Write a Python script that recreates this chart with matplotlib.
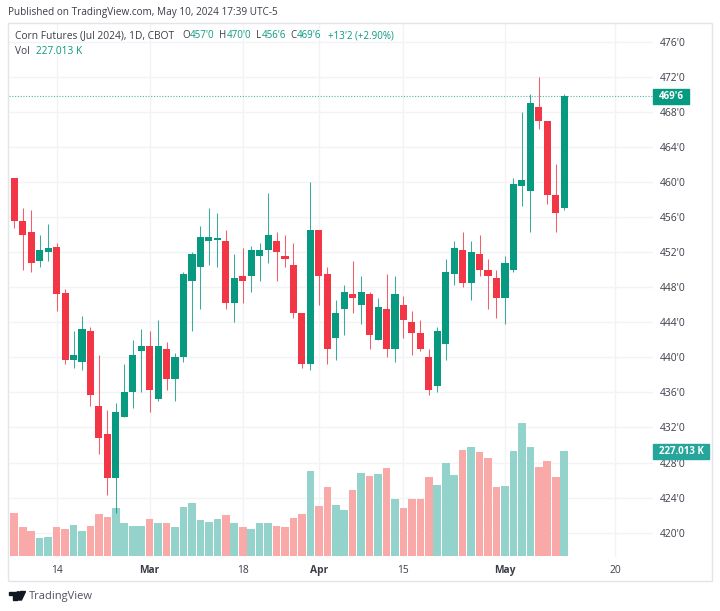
import matplotlib
matplotlib.use('Agg')
import matplotlib.pyplot as plt
from matplotlib.patches import Rectangle, Polygon, Circle

# daily candles
opens = [460.5, 455.55, 454.33, 451.0, 452.0, 452.55, 447.3, 439.75, 439.5, 443.0, 434.5, 431.25,
         426.25, 433.25, 436.0, 440.75, 441.25, 435.25, 441.0, 437.5, 440.0, 448.75, 450.25, 453.25,
         453.4, 453.25, 446.25, 449.25, 449.25, 451.5, 452.25, 453.25, 451.5, 450.5, 445.0, 439.25,
         454.5, 449.5, 442.25, 445.5, 447.25, 446.0, 447.25, 442.0, 445.5, 441.0, 446.0, 444.0,
         442.75, 440.0, 436.75, 441.5, 449.5, 452.25, 448.5, 451.75, 450.0, 449.0, 446.75, 450.0,
         459.5, 459.0, 468.5, 467.0, 458.5, 457.0]
highs = [460.5, 457.0, 456.75, 454.0, 455.25, 453.0, 447.75, 443.0, 444.75, 443.5, 440.25, 434.0,
         434.75, 439.25, 442.0, 443.25, 443.0, 444.25, 441.75, 440.5, 449.75, 452.0, 455.0, 457.0,
         456.5, 454.5, 451.75, 452.5, 452.75, 453.0, 458.75, 454.25, 454.0, 453.0, 445.0, 460.0,
         454.5, 450.25, 446.5, 448.25, 451.0, 449.25, 447.5, 446.75, 449.5, 449.25, 447.0, 445.25,
         444.25, 441.0, 443.5, 451.25, 453.25, 454.25, 453.25, 454.0, 451.25, 450.0, 451.5, 460.5,
         468.0, 470.0, 472.0, 467.0, 462.0, 470.0]
lows = [454.75, 450.0, 449.75, 450.25, 451.0, 445.25, 439.25, 438.75, 438.5, 434.5, 429.0, 424.25,
        422.25, 433.25, 434.25, 436.0, 433.75, 435.0, 436.25, 435.0, 439.5, 443.0, 445.5, 450.5,
        450.25, 445.5, 444.0, 446.25, 447.5, 448.75, 450.75, 448.75, 450.25, 444.5, 438.75, 438.5,
        446.0, 439.25, 439.75, 442.5, 445.0, 443.75, 441.0, 442.0, 440.0, 439.5, 442.25, 440.25,
        440.75, 435.75, 436.0, 439.75, 448.25, 448.0, 446.5, 449.25, 445.5, 444.5, 443.75, 449.75,
        457.25, 454.25, 466.0, 457.5, 454.25, 456.75]
closes = [455.5, 454.0, 450.75, 452.25, 452.5, 447.25, 439.75, 440.25, 443.25, 435.75, 430.75, 426.25,
          433.75, 436.0, 440.25, 441.25, 436.25, 441.25, 437.5, 440.0, 449.5, 451.75, 453.75, 453.75,
          453.6, 446.25, 449.0, 448.75, 452.25, 452.25, 454.0, 452.0, 451.25, 445.0, 439.25, 454.5,
          449.25, 441.0, 445.0, 447.5, 446.75, 447.5, 442.5, 445.75, 441.0, 447.25, 444.25, 442.75,
          441.0, 436.25, 443.0, 449.75, 452.5, 448.5, 452.0, 450.0, 449.25, 446.75, 450.75, 459.75,
          460.25, 469.0, 467.0, 458.5, 456.5, 469.75]
# volume in thousands
volumes = [94, 62, 53, 38, 40, 62, 58, 68, 53, 64, 91, 84, 104, 72, 65, 65, 79, 72, 71, 62,
           105, 114, 77, 73, 79, 89, 72, 62, 58, 71, 71, 64, 62, 82, 90, 184, 107, 149, 110, 99,
           142, 179, 174, 177, 190, 123, 104, 123, 123, 170, 153, 201, 175, 229, 235, 225, 212,
           150, 151, 227, 287, 235, 193, 205, 170, 227.013]

price_ticks = [420, 424, 428, 432, 436, 440, 444, 448, 452, 456, 460, 464, 468, 472, 476]
price_labels = ["420'0", "424'0", "428'0", "432'0", "436'0", "440'0", "444'0", "448'0",
                "452'0", "456'0", "460'0", "464'0", "468'0", "472'0", "476'0"]
date_ticks = [5, 16, 27, 36, 46, 58, 71]
date_labels = ['14', 'Mar', '18', 'Apr', '15', 'May', '20']
bold_labels = ['Mar', 'Apr', 'May']

RED = '#f23645'
GREEN = '#089981'
GRID = '#f2f3f7'
TEXT = '#3b3e48'
FONT = 'Open Sans'
W, H = 720, 611

plt.rcParams['font.family'] = FONT


def px(x, y):
    return x / W, 1 - y / H


def label(x, y, s, color=TEXT, size=7.3, **kw):
    fig.text(*px(x, y), s, color=color, fontsize=size, va='center', **kw)


fig = plt.figure(figsize=(W / 100, H / 100), dpi=100)

# plot area runs from 8.5 to 653 px across and 23.5 to 557 px down
left, right, top, bottom = 8.5, 653, 23.5, 557
rect = [left / W, 1 - bottom / H, (right - left) / W, (bottom - top) / H]

# three layers: grid and ticks, then volume, then candles
ax = fig.add_axes(rect, zorder=0)
vol_ax = fig.add_axes(rect, zorder=1)
candle_ax = fig.add_axes(rect, zorder=2)
vol_ax.axis('off')
candle_ax.axis('off')

for a in (ax, vol_ax, candle_ax):
    a.set_xlim(-0.686, 75.5)
for a in (ax, candle_ax):
    a.set_ylim(417.23, 478.07)
vol_ax.set_ylim(-2.16, 1151)

xs = range(len(opens))
up = [c >= o for o, c in zip(opens, closes)]
colors = [GREEN if u else RED for u in up]

vol_ax.bar(xs, volumes, width=0.9, color=['#93d3cc' if u else '#f8a9a8' for u in up])

candle_ax.vlines(xs, lows, highs, color=colors, linewidth=0.75, alpha=0.8, zorder=3)
candle_ax.bar(xs, [abs(c - o) for o, c in zip(opens, closes)], bottom=[min(o, c) for o, c in zip(opens, closes)],
              width=0.84, color=colors, zorder=4)

candle_ax.axhline(closes[-1], color=GREEN, linewidth=0.8, linestyle=(0, (1, 1.5)), alpha=0.7, zorder=2)

ax.set_yticks(price_ticks, price_labels)
ax.yaxis.tick_right()
ax.set_xticks(date_ticks, date_labels)
ax.tick_params(length=0, labelsize=7.4, labelcolor=TEXT)
ax.tick_params(axis='y', pad=5)
ax.tick_params(axis='x', pad=6)
for t in ax.get_xticklabels():
    if t.get_text() in bold_labels:
        t.set_fontweight('bold')
ax.grid(color=GRID, linewidth=1)
ax.set_axisbelow(True)
for s in ax.spines.values():
    s.set_visible(False)

# outer frame of the widget
fig.add_artist(Rectangle(px(8.3, 581), 703.5 / W, 558 / H, fill=False, edgecolor='#e3e5ea', linewidth=1,
                         transform=fig.transFigure, zorder=1))

# last value tags on the price scale
fig.add_artist(Rectangle(px(652.7, 104.3), 36.3 / W, 15 / H, color=GREEN, transform=fig.transFigure, zorder=5))
label(671, 96.5, "469'6", color='white', size=7, fontweight='bold', ha='center', zorder=6)
fig.add_artist(Rectangle(px(652.7, 458.7), 56.6 / W, 14.7 / H, color='#26a69a', transform=fig.transFigure, zorder=5))
label(681, 451.5, '227.013 K', color='white', size=7, fontweight='bold', ha='center', zorder=6)

# header and legend
label(8.5, 13, 'Published on TradingView.com, May 10, 2024 17:39 UTC-5', size=7.24)
label(15, 36, 'Corn Futures (Jul 2024), 1D, CBOT', size=7.4)
for x, s, c in [(182, 'O', TEXT), (189.5, "457'0", GREEN), (219, 'H', TEXT), (226.5, "470'0", GREEN),
                (256, 'L', TEXT), (261.5, "456'6", GREEN), (290.5, 'C', TEXT), (297, "469'6", GREEN),
                (327.5, "+13'2 (+2.90%)", GREEN)]:
    label(x, 36, s, color=c, size=7.0)
label(15, 51, 'Vol', size=7.3)
label(36, 51, '227.013 K', color=GREEN, size=7.3)

# TradingView logo
LOGO = '#131722'
fig.add_artist(Polygon([px(8.5, 591.5), px(17, 591.5), px(17, 600), px(13, 600), px(13, 595), px(8.5, 595)],
                       closed=True, color=LOGO, transform=fig.transFigure))
fig.add_artist(Polygon([px(20.5, 591.5), px(25.5, 591.5), px(21.5, 600), px(16.5, 600)],
                       closed=True, color=LOGO, transform=fig.transFigure))
fig.add_artist(Circle(px(18.3, 593.2), 1.7 / W, color=LOGO, transform=fig.transFigure))
label(29, 596, 'TradingView', color='#50535e', size=8.0)

fig.savefig('out.png', dpi=100)
